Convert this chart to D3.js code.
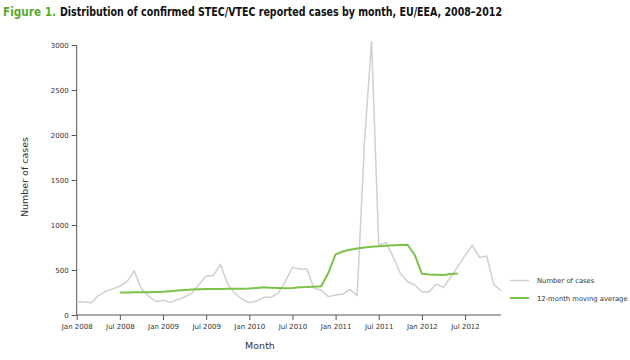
<!DOCTYPE html>
<html><head><meta charset="utf-8">
<script src="https://cdn.jsdelivr.net/npm/d3@7"></script>
<style>body{margin:0;background:#fff}svg{display:block}</style>
</head><body>
<svg id="c" width="630" height="360"></svg>
<script>
const titlePrefix = "Figure 1.";
const titleText = "Distribution of confirmed STEC/VTEC reported cases by month, EU/EEA, 2008–2012";
const yTicks = [0, 500, 1000, 1500, 2000, 2500, 3000];
const xTickIndex = [0, 6, 12, 18, 24, 30, 36, 42, 48, 54];
const xTickLabels = ["Jan 2008","Jul 2008","Jan 2009","Jul 2009","Jan 2010","Jul 2010","Jan 2011","Jul 2011","Jan 2012","Jul 2012"];
// Monthly cases Jan 2008 .. Dec 2012
const cases = [145,145,135,215,260,290,320,370,490,290,210,150,
               165,140,170,200,240,340,430,440,560,340,240,175,
               137,155,196,196,241,370,530,511,511,296,278,204,
               222,233,285,215,1900,3040,778,804,648,463,370,333,
               259,259,341,307,420,540,660,775,640,655,340,270];
// 12-month moving average (centered), Jan 2008 .. Dec 2012
const movingAvg = [null,null,null,null,null,null,
               250,250,252,252,252,255,
               258,265,272,278,283,287,290,290,290,292,292,292,
               294,300,307,304,300,297,300,307,310,315,320,470,
               674,705,725,740,750,758,765,770,774,778,781,667,
               457,450,447,445,455,460,null,null,null,null,null,null];
const seriesNames = ["Number of cases", "12-month moving average"];

const svg = d3.select("#c");
const x = d3.scaleLinear().domain([0, 59]).range([76.7, 501]);
const y = d3.scaleLinear().domain([0, 3000]).range([315, 45]);
const FONT = "DejaVu Sans, Verdana, sans-serif";

// Title
svg.append("text").attr("x", 3).attr("y", 16).attr("fill", "#5aaa2a")
  .style("font-family", FONT).style("font-weight", "bold").style("font-size", "12px")
  .attr("textLength", 53).attr("lengthAdjust", "spacingAndGlyphs").text(titlePrefix);
svg.append("text").attr("x", 60).attr("y", 16).attr("fill", "#111")
  .style("font-family", FONT).style("font-weight", "bold").style("font-size", "12px")
  .attr("textLength", 442).attr("lengthAdjust", "spacingAndGlyphs").text(titleText);

// Axes
const yAxis = svg.append("g").attr("transform", "translate(76.7,0)")
  .call(d3.axisLeft(y).tickValues(yTicks).tickSize(5).tickPadding(3).tickFormat(d3.format("d")));
const xAxis = svg.append("g").attr("transform", "translate(0,315)")
  .call(d3.axisBottom(x).tickValues(xTickIndex).tickSize(5).tickPadding(4)
    .tickFormat((d, i) => xTickLabels[i]));
[yAxis, xAxis].forEach(g => {
  g.select(".domain").attr("stroke", "#555");
  g.selectAll(".tick line").attr("stroke", "#555");
  g.selectAll("text").attr("fill", "#333").style("font-family", FONT).style("font-size", "7px");
});
xAxis.select(".domain").attr("d", `M${x(0)},0H${x(59)}`);
yAxis.select(".domain").attr("d", `M0,${y(0)}V${y(3000)}`);

// Axis titles
svg.append("text").attr("transform", "translate(28,177) rotate(-90)").attr("text-anchor", "middle")
  .style("font-family", FONT).style("font-size", "9.5px").attr("fill", "#333")
  .text("Number of cases");
svg.append("text").attr("x", 260).attr("y", 349).attr("text-anchor", "middle")
  .style("font-family", FONT).style("font-size", "9.5px").attr("fill", "#333")
  .text("Month");

// Lines
const line = d3.line().defined(d => d != null).x((d, i) => x(i)).y(d => y(d));
svg.append("path").datum(cases).attr("d", line).attr("fill", "none")
  .attr("stroke", "#d0d0d0").attr("stroke-width", 1.5).attr("stroke-linejoin", "round");
svg.append("path").datum(movingAvg).attr("d", line).attr("fill", "none")
  .attr("stroke", "#7cc24a").attr("stroke-width", 2).attr("stroke-linejoin", "round");

// Legend
const legColors = ["#d0d0d0", "#7cc24a"];
const legW = [1.5, 2];
seriesNames.forEach((n, i) => {
  const ly = 280.5 + i * 17.5;
  svg.append("line").attr("x1", 510).attr("x2", 529).attr("y1", ly).attr("y2", ly)
    .attr("stroke", legColors[i]).attr("stroke-width", legW[i]);
  svg.append("text").attr("x", 537).attr("y", ly + 2.5)
    .style("font-family", FONT).style("font-size", "6.8px").attr("fill", "#333")
    .text(n);
});
</script>
</body></html>
